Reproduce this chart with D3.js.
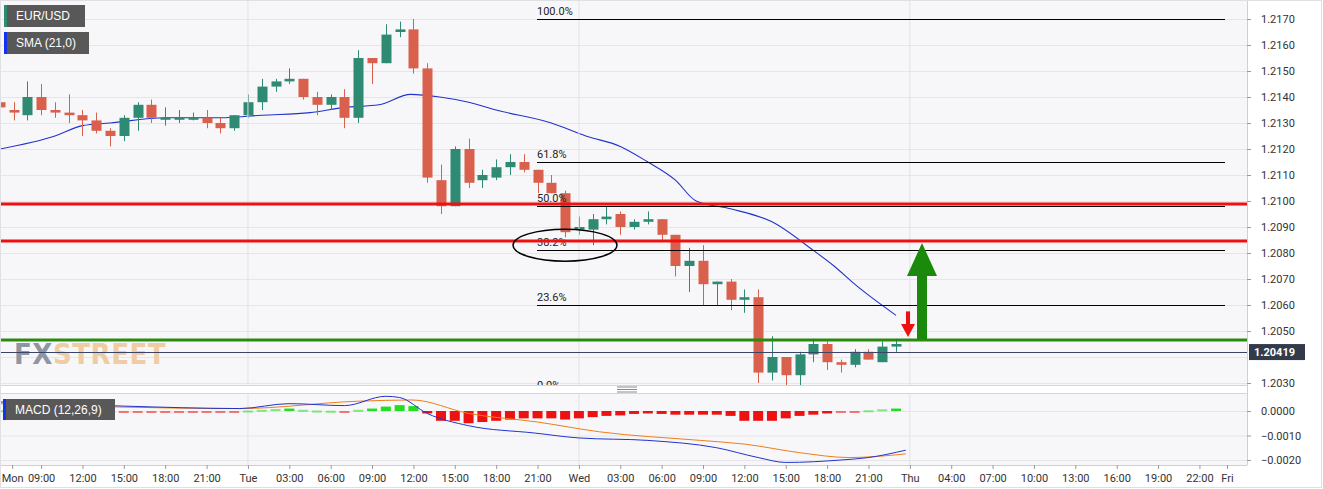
<!DOCTYPE html>
<html><head><meta charset="utf-8">
<script src="https://cdn.jsdelivr.net/npm/d3@7"></script>
<style>body{margin:0;background:#fff;font-family:Roboto,Arial,sans-serif}</style>
</head><body><svg id="c" width="1323" height="489"></svg>
<script>
// candle hours from Mon 00:00 (hourly, Mon 06:00 .. Wed 23:00)
const candleStartHour = 6;
const opens  = [1.2138,1.2135,1.2133,1.2140,1.2135,1.2134,1.2133,1.2131,1.2127,1.2125,1.2132,1.2137,1.2132,1.2132,1.2132,1.2132,1.2130,1.2128,1.2133,1.2138,1.2144,1.2146,1.2147,1.2140,1.2137,1.2140,1.2132,1.2155,1.2153,1.2165,1.2166,1.2151,1.2108,1.2098,1.2120,1.2108,1.2109,1.2113,1.2115,1.2112,1.2107,1.2103,1.2089,1.2089,1.2093,1.2095,1.2090,1.2092,1.2093,1.2087,1.2075,1.2077,1.2068,1.2069,1.2062,1.2063,1.2034,1.2040,1.2033,1.2041,1.2045,1.2038,1.2037,1.2042,1.2038,1.2044];
const highs  = [1.2141,1.2138,1.2146,1.2145,1.2138,1.2141,1.2135,1.2134,1.2128,1.2133,1.2138,1.2139,1.2136,1.2135,1.2134,1.2135,1.2132,1.2133,1.2141,1.2147,1.2147,1.2151,1.2147,1.2142,1.2141,1.2143,1.2158,1.2155,1.2168,1.2169,1.2170,1.2153,1.2114,1.2121,1.2124,1.2112,1.2116,1.2118,1.2118,1.2112,1.2110,1.2104,1.2094,1.2095,1.2098,1.2096,1.2093,1.2096,1.2093,1.2087,1.2082,1.2083,1.2069,1.2070,1.2066,1.2066,1.2048,1.2040,1.2042,1.2047,1.2046,1.2039,1.2043,1.2043,1.2046,1.2047];
const lows   = [1.2135,1.2131,1.2131,1.2133,1.2132,1.2130,1.2125,1.2126,1.2121,1.2123,1.2127,1.2130,1.2129,1.2130,1.2131,1.2128,1.2126,1.2127,1.2132,1.2135,1.2142,1.2145,1.2139,1.2133,1.2135,1.2128,1.2130,1.2145,1.2153,1.2163,1.2149,1.2107,1.2095,1.2098,1.2105,1.2105,1.2108,1.2110,1.2111,1.2103,1.2103,1.2086,1.2087,1.2083,1.2091,1.2087,1.2089,1.2091,1.2085,1.2071,1.2065,1.2060,1.2060,1.2058,1.2057,1.2030,1.2031,1.2029,1.2029,1.2038,1.2035,1.2034,1.2036,1.2039,1.2038,1.2042];
const closes = [1.2136,1.2134,1.2140,1.2135,1.2134,1.2133,1.2131,1.2127,1.2125,1.2132,1.2137,1.2132,1.2132,1.2132,1.2132,1.2130,1.2128,1.2133,1.2138,1.2144,1.2146,1.2147,1.2140,1.2137,1.2140,1.2132,1.2155,1.2153,1.2164,1.2166,1.2151,1.2109,1.2098,1.2120,1.2107,1.2110,1.2113,1.2115,1.2112,1.2107,1.2103,1.2088,1.2090,1.2093,1.2094,1.2090,1.2092,1.2093,1.2087,1.2075,1.2077,1.2068,1.2069,1.2062,1.2063,1.2034,1.2040,1.2033,1.2041,1.2045,1.2038,1.2037,1.2042,1.2039,1.2044,1.2045];
// SMA(21) line (hour, value)
const smaHours  = [6,10,12,14,18,22,25,28.5,31,33.5,35.8,37.9,40,42,46,48.5,51,53,55,56.5,59,62,65,66.5,68,71];
const smaValues = [1.2120,1.2125,1.2129,1.2130,1.2132,1.2132,1.2133,1.2134,1.2136,1.2137,1.2141,1.2140,1.2138,1.2135,1.2130,1.2125,1.2121,1.2115,1.2108,1.2100,1.2097,1.2092,1.2081,1.2075,1.2068,1.2056];
// MACD
const macdHours = [6,15,23.4,27,31,34,35,37,40,44.8,48,53,58,61,63,67,69,71.7];
const macdValues= [0.00037,0.0002,0.0001,0.0003,0.00022,0.0006,0.00055,-0.0001,-0.0006,-0.0009,-0.0011,-0.0012,-0.0015,-0.0019,-0.0021,-0.0020,-0.0019,-0.0016];
const sigHours  = [6,23.4,32,35.9,40,45,49.5,56.8,60,64,67.6,71.7];
const sigValues = [0.0003,0.0001,0.0004,0.00045,-0.0001,-0.00045,-0.00085,-0.0012,-0.00135,-0.0017,-0.0019,-0.00175];
const histValues= [0.00003,0.00003,-0.00002,-0.00002,-0.00002,-0.00002,-0.00002,-0.00003,-0.00003,-0.00003,-0.00003,-0.00003,-0.00003,-0.00002,-0.00002,-0.00002,-0.00002,-0.00002,0.00002,0.00005,0.00008,0.0001,0.00005,0.00002,0.00001,-0.00002,0.00005,0.0001,0.00018,0.00024,0.0002,-0.0001,-0.0004,-0.0004,-0.0005,-0.00045,-0.0004,-0.00035,-0.0003,-0.0003,-0.0003,-0.00035,-0.0003,-0.00025,-0.0002,-0.00018,-0.00012,-0.0001,-0.00012,-0.00015,-0.00015,-0.00015,-0.00015,-0.0002,-0.0004,-0.0004,-0.0004,-0.0003,-0.0002,-0.00015,-0.0001,-0.00003,-0.00002,0.00003,0.00007,0.0001];
// axes
const priceTicks = [1.2030,1.2040,1.2050,1.2060,1.2070,1.2080,1.2090,1.2100,1.2110,1.2120,1.2130,1.2140,1.2150,1.2160,1.2170];
const macdTicks = [0,-0.001,-0.002];
const timeTickHours  = [6.9,9,12,15,18,21,24,27,30,33,36,39,42,45,48,51,54,57,60,63,66,69,72,75,78,81,84,87,90,93,95];
const timeTickLabels = ["Mon","09:00","12:00","15:00","18:00","21:00","Tue","03:00","06:00","09:00","12:00","15:00","18:00","21:00","Wed","03:00","06:00","09:00","12:00","15:00","18:00","21:00","Thu","04:00","07:00","10:00","13:00","16:00","19:00","22:00","Fri"];
const fibLevels = [1.2170,1.21150,1.2098,1.2081,1.2060,1.2026];
const fibLabels = ["100.0%","61.8%","50.0%","38.2%","23.6%","0.0%"];
const redLevels = [1.20988,1.20846];
const greenLevel = 1.20465;
const lastPrice = 1.20419;

const svg = d3.select("#c");
const W=1247, top0=0, top1=385, m0=393, m1=465;
const x = d3.scaleLinear().domain([0,96.45]).range([-83,W]);
const y = d3.scaleLinear().domain([1.2030,1.2170]).range([383,19]);
const ym = d3.scaleLinear().domain([0,-0.002]).range([411,460]);

svg.append("rect").attr("width",1323).attr("height",489).attr("fill","#fff");
svg.append("rect").attr("x",0).attr("y",top0).attr("width",W).attr("height",top1).attr("fill","#f7f7f9");
svg.append("rect").attr("x",0).attr("y",m0).attr("width",W).attr("height",m1-m0).attr("fill","#f7f7f9");
svg.append("clipPath").attr("id","ct").append("rect").attr("width",W).attr("height",top1);
svg.append("clipPath").attr("id","cm").append("rect").attr("y",m0).attr("width",W).attr("height",m1-m0);

// grid
const g = svg.append("g").attr("clip-path","url(#ct)");
g.selectAll(".hg").data(priceTicks).join("line").attr("x1",0).attr("x2",W).attr("y1",d=>y(d)+.5).attr("y2",d=>y(d)+.5).attr("stroke","#e6e6ea");
[24,48,72].forEach(h=>{
  svg.append("line").attr("x1",x(h)).attr("x2",x(h)).attr("y1",0).attr("y2",top1).attr("stroke","#e2e2e6");
  svg.append("line").attr("x1",x(h)).attr("x2",x(h)).attr("y1",m0).attr("y2",m1).attr("stroke","#e2e2e6");
});
svg.selectAll(".mg").data(macdTicks).join("line").attr("x1",0).attr("x2",W).attr("y1",d=>ym(d)+.5).attr("y2",d=>ym(d)+.5).attr("stroke","#e6e6ea");

// watermark
const wm = svg.append("text").attr("x",14).attr("y",364).attr("font-size",29).attr("font-weight","bold").attr("font-family","'DejaVu Sans Condensed','DejaVu Sans',sans-serif").attr("letter-spacing",0.5);
wm.append("tspan").text("FX").attr("fill","#8e96a3");
wm.append("tspan").text("STREET").attr("fill","#f0cca4");

// fib
const fg = svg.append("g").attr("clip-path","url(#ct)");
fibLevels.forEach((v,i)=>{
  fg.append("line").attr("x1",537).attr("x2",1225).attr("y1",Math.round(y(v))+.5).attr("y2",Math.round(y(v))+.5).attr("stroke","#000").attr("stroke-width",1);
  fg.append("text").attr("x",537).attr("y",y(v)-4).attr("font-size",11).attr("fill","#222").text(fibLabels[i]);
});

// SMA
g.append("path").datum(smaHours.map((h,i)=>[h,smaValues[i]])).attr("fill","none").attr("stroke","#2233cc").attr("stroke-width",1.1)
 .attr("d",d3.line().x(d=>x(d[0])).y(d=>y(d[1])).curve(d3.curveMonotoneX));

// candles
const cg = g.append("g");
opens.forEach((o,i)=>{
  const h=candleStartHour+i, c=closes[i], up=c>=o, col=up?"#2f8a73":"#d9604c", cx=Math.round(x(h))+.5;
  cg.append("line").attr("x1",cx).attr("x2",cx).attr("y1",y(highs[i])).attr("y2",y(lows[i])).attr("stroke",col);
  const yt=y(Math.max(o,c)), yb=y(Math.min(o,c));
  cg.append("rect").attr("x",cx-5).attr("width",10).attr("y",yt).attr("height",Math.max(2,yb-yt)).attr("fill",col);
});

// levels
redLevels.forEach(v=>svg.append("line").attr("x1",0).attr("x2",W).attr("y1",y(v)).attr("y2",y(v)).attr("stroke","#ee1111").attr("stroke-width",3));
svg.append("line").attr("x1",0).attr("x2",W).attr("y1",y(greenLevel)).attr("y2",y(greenLevel)).attr("stroke","#2a8a10").attr("stroke-width",3);
svg.append("line").attr("x1",0).attr("x2",W).attr("y1",Math.round(y(lastPrice))+.5).attr("y2",Math.round(y(lastPrice))+.5).attr("stroke","#3a4466").attr("stroke-width",1);

// ellipse
svg.append("ellipse").attr("cx",565).attr("cy",y(1.2083)).attr("rx",52).attr("ry",16).attr("fill","none").attr("stroke","#000").attr("stroke-width",1.5);

// green arrow
const ax=922, ay0=y(greenLevel)-1, ay1=y(redLevels[1])+2;
svg.append("rect").attr("x",ax-5).attr("y",ay1+32).attr("width",10).attr("height",ay0-ay1-32).attr("fill","#1b8a0c");
svg.append("path").attr("d",`M${ax-15},${ay1+33}L${ax},${ay1}L${ax+15},${ay1+33}Z`).attr("fill","#1b8a0c");
// red arrow
const rx=908, ry0=y(smaValues[smaValues.length-1])-4, ry1=y(greenLevel)-3;
svg.append("rect").attr("x",rx-2).attr("y",ry0).attr("width",4).attr("height",ry1-ry0-12).attr("fill","#ee1111");
svg.append("path").attr("d",`M${rx-7},${ry1-13}L${rx},${ry1}L${rx+7},${ry1-13}Z`).attr("fill","#ee1111");

// MACD panel
const mg = svg.append("g").attr("clip-path","url(#cm)");
histValues.forEach((v,i)=>{
  const h=candleStartHour+i, cx=x(h);
  const y0=ym(0), y1=ym(v);
  const big=Math.abs(y1-y0)>=2;
  mg.append("rect").attr("x",cx-5).attr("width",10).attr("y",Math.min(y0,y1)).attr("height",Math.max(2,Math.abs(y1-y0)))
    .attr("fill",v>=0?"#22dd22":"#ee1111").attr("opacity",big?1:0.55);
});
mg.append("path").datum(sigHours.map((h,i)=>[h,sigValues[i]])).attr("fill","none").attr("stroke","#f07d1a").attr("stroke-width",1)
  .attr("d",d3.line().x(d=>x(d[0])).y(d=>ym(d[1])).curve(d3.curveMonotoneX));
mg.append("path").datum(macdHours.map((h,i)=>[h,macdValues[i]])).attr("fill","none").attr("stroke","#2233cc").attr("stroke-width",1)
  .attr("d",d3.line().x(d=>x(d[0])).y(d=>ym(d[1])).curve(d3.curveMonotoneX));

// panel borders / separator
svg.append("line").attr("x1",0).attr("x2",W).attr("y1",top1+.5).attr("y2",top1+.5).attr("stroke","#d6d6da");
svg.append("line").attr("x1",0).attr("x2",W).attr("y1",m0+.5).attr("y2",m0+.5).attr("stroke","#d6d6da");
[387,389.5,392].forEach(yy=>svg.append("line").attr("x1",617).attr("x2",637).attr("y1",yy).attr("y2",yy).attr("stroke","#888"));
svg.append("line").attr("x1",W+.5).attr("x2",W+.5).attr("y1",0).attr("y2",m1).attr("stroke","#cfcfd4");
svg.append("line").attr("x1",0).attr("x2",W).attr("y1",m1+.5).attr("y2",m1+.5).attr("stroke","#cfcfd4");
svg.append("rect").attr("x",.5).attr("y",.5).attr("width",1321).attr("height",487).attr("fill","none").attr("stroke","#e0e0e4");

// right axes (1.2040 label is covered by the last-price tag in the original)
const ra = svg.append("g").attr("transform",`translate(${W},0)`)
  .call(d3.axisRight(y).tickValues(priceTicks.filter(d=>Math.abs(d-1.2040)>1e-6)).tickFormat(d3.format(".4f")).tickSize(4));
const ma = svg.append("g").attr("transform",`translate(${W},0)`)
  .call(d3.axisRight(ym).tickValues(macdTicks).tickFormat(d3.format(".4f")).tickSize(4));
[ra,ma].forEach(a=>{a.select(".domain").remove();a.selectAll("text").attr("font-size",11).attr("fill","#333").attr("font-family","Roboto,Arial,sans-serif").attr("x",14);a.selectAll("line").attr("stroke","#999");});

// last price tag
svg.append("rect").attr("x",W+2).attr("y",y(lastPrice)-8).attr("width",56).attr("height",16).attr("fill","#333a4a");
svg.append("text").attr("x",W+7).attr("y",y(lastPrice)+4).attr("font-size",11).attr("font-weight","bold").attr("fill","#fff").text(lastPrice.toFixed(5));

// time axis
const ta = svg.append("g").attr("transform",`translate(0,${m1})`)
  .call(d3.axisBottom(x).tickValues(timeTickHours).tickFormat((d,i)=>timeTickLabels[i]).tickSize(4));
ta.select(".domain").remove();
ta.selectAll("line").attr("stroke","#999");
ta.selectAll("text").attr("font-size",11).attr("fill","#333").attr("font-family","Roboto,Arial,sans-serif").attr("dy","0.9em");

// legend boxes
function tag(x0,y0,w,h,txt,col){
  svg.append("rect").attr("x",x0).attr("y",y0).attr("width",w).attr("height",h).attr("fill","#585858");
  svg.append("rect").attr("x",x0).attr("y",y0).attr("width",3).attr("height",h).attr("fill",col);
  svg.append("text").attr("x",x0+12).attr("y",y0+h/2+4).attr("font-size",12).attr("fill","#fff").attr("font-family","Arial,sans-serif").text(txt);
}
tag(4,5,81,22,"EUR/USD","#2f8a73");
tag(4,32,85,22,"SMA (21,0)","#1133ee");
tag(3,399,112,21,"MACD (12,26,9)","#1133ee");
</script></body></html>
